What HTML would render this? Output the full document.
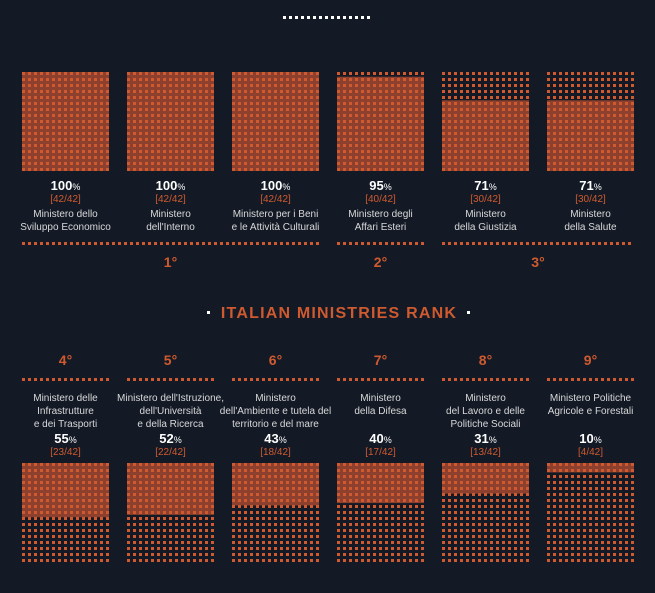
<!DOCTYPE html>
<html><head><meta charset="utf-8">
<style>
html,body{margin:0;padding:0;background:#131a26;}
svg{display:block;font-family:"Liberation Sans",sans-serif;}
</style></head>
<body>
<svg id="chart" width="655" height="593" viewBox="0 0 655 593"></svg>
<script>
const topNames = [["Ministero dello","Sviluppo Economico"],["Ministero","dell'Interno"],["Ministero per i Beni","e le Attività Culturali"],["Ministero degli","Affari Esteri"],["Ministero","della Giustizia"],["Ministero","della Salute"]];
const topValues = [42,42,42,40,30,30];
const botNames = [["Ministero delle","Infrastrutture","e dei Trasporti"],["Ministero dell'Istruzione,","dell'Università","e della Ricerca"],["Ministero","dell'Ambiente e tutela del","territorio e del mare"],["Ministero","della Difesa"],["Ministero","del Lavoro e delle","Politiche Sociali"],["Ministero Politiche","Agricole e Forestali"]];
const botValues = [23,22,18,17,13,4];
const botRanks = ["4°","5°","6°","7°","8°","9°"];
const topGroups = [[0,2,"1°"],[3,3,"2°"],[4,5,"3°"]];
const TOTAL = 42;

const NS="http://www.w3.org/2000/svg";
const svg=document.getElementById('chart');
const ORANGE="#cf5a2f", FILL="#8c402d";
function el(tag,attrs,parent){const e=document.createElementNS(NS,tag);for(const k in attrs)e.setAttribute(k,attrs[k]);(parent||svg).appendChild(e);return e;}
function txt(x,y,s,size,color,weight,parent){const t=el('text',{x:x,y:y,'text-anchor':'middle','font-size':size,fill:color,'font-weight':weight||'normal'},parent);t.textContent=s;return t;}
const colX=i=>22+i*105, W=87, H=99;
function block(i,y0,v,fromBottom,name){
  const g=el('g',{});
  
  
  const h=H*v/TOTAL;
  const fy=fromBottom? y0+H-h : y0;
  const r=el('rect',{x:colX(i),y:fy,width:W,height:h,fill:FILL},g);
  
  
  for(let row=0;row<17;row++)for(let c=0;c<15;c++){
    el('rect',{x:colX(i)+c*6,y:y0+row*6,width:3,height:3,fill:ORANGE},g);
  }
}
function dotline(x1,x2,y,name){
  const g=el('g',{});
  
  
  for(let x=x1;x<=x2-3;x+=6)el('rect',{x:x,y:y,width:3,height:3,fill:ORANGE},g);
}
// top white dots
{const g=el('g',{});
for(let k=0;k<15;k++)el('rect',{x:283+k*6,y:16,width:3,height:3,fill:'#fff'},g);}
// top section
topValues.forEach((v,i)=>{
  block(i,72,v,true,'bar-top-'+(i+1));
  const cx=colX(i)+W/2;
  const p=txt(cx,190,'',13,'#fff','bold');
  p.innerHTML=Math.round(v/TOTAL*100)+'<tspan font-size="9" font-weight="normal">%</tspan>';
  
  const f=txt(cx,202,'['+v+'/'+TOTAL+']',10,ORANGE);
  
  topNames[i].forEach((s,j)=>{const n=txt(cx,217+j*13,s,10,'#d8d8d8');});
});
topGroups.forEach(([a,b,r])=>{
  dotline(colX(a),colX(b)+W,242,'rank-divider');
  const t=txt((colX(a)+colX(b)+W)/2,267,r,14,ORANGE,'bold');
  
});
// title
el('rect',{x:207,y:311,width:3,height:3,fill:'#fff'});
el('rect',{x:467,y:311,width:3,height:3,fill:'#fff'});
{const t=txt(339,318,'ITALIAN MINISTRIES RANK',16,ORANGE,'bold');t.setAttribute('letter-spacing','1.2');}
// bottom section
botValues.forEach((v,i)=>{
  const cx=colX(i)+W/2;
  const r=txt(cx,365,botRanks[i],14,ORANGE,'bold');
  
  dotline(colX(i),colX(i)+W,378,'rank-divider');
  botNames[i].forEach((s,j)=>{const n=txt(cx,401+j*13,s,10,'#d8d8d8');});
  const p=txt(cx,443,'',13,'#fff','bold');
  p.innerHTML=Math.round(v/TOTAL*100)+'<tspan font-size="9" font-weight="normal">%</tspan>';
  
  const f=txt(cx,455,'['+v+'/'+TOTAL+']',10,ORANGE);
  
  block(i,463,v,false,'bar-bottom-'+(i+1));
});
</script>
</body></html>
